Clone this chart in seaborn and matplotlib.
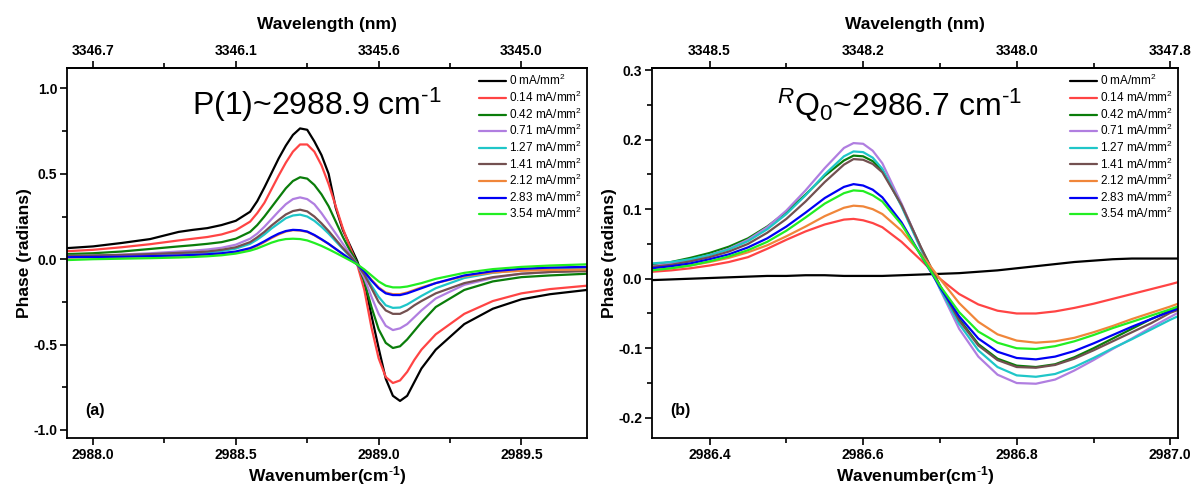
import matplotlib
matplotlib.use("Agg")
import matplotlib.pyplot as plt
import seaborn as sns
import pandas as pd
from matplotlib.ticker import MultipleLocator, FormatStrFormatter

# ---------------- data ----------------
current_density = ["0", "0.14", "0.42", "0.71", "1.27", "1.41", "2.12", "2.83", "3.54"]
line_colors = ["#000000", "#ff4444", "#0a7d0a", "#b07ee0", "#1fc6c8",
               "#735050", "#f0863a", "#0000f5", "#22ee22"]

# P(1) line
wn_p1 = [2987.91, 2988.0, 2988.1, 2988.2, 2988.3, 2988.35, 2988.4, 2988.45, 2988.5,
         2988.55, 2988.575, 2988.6, 2988.625, 2988.65, 2988.675, 2988.7, 2988.725,
         2988.75, 2988.775, 2988.8,
         2988.825, 2988.85, 2988.875, 2988.9, 2988.925, 2988.95, 2988.975, 2989.0,
         2989.025, 2989.05, 2989.075, 2989.1, 2989.125, 2989.15, 2989.2, 2989.3,
         2989.4, 2989.5, 2989.6, 2989.73]
p1_000 = [0.065, 0.075, 0.095, 0.118, 0.16, 0.172, 0.182, 0.20, 0.225,
          0.278, 0.34, 0.42, 0.505, 0.59, 0.665, 0.728, 0.766, 0.758, 0.69, 0.61,
          0.50, 0.30, 0.17, 0.08, -0.01, -0.13, -0.33, -0.52, -0.70, -0.80, -0.83, -0.80,
          -0.72, -0.64, -0.53, -0.38, -0.29, -0.235, -0.205, -0.18]
p1_014 = [0.047, 0.055, 0.07, 0.088, 0.11, 0.12, 0.13, 0.145, 0.17,
          0.22, 0.27, 0.33, 0.41, 0.49, 0.565, 0.63, 0.672, 0.672, 0.63, 0.55,
          0.44, 0.31, 0.18, 0.07, -0.03, -0.18, -0.40, -0.58, -0.69, -0.725, -0.71, -0.66,
          -0.59, -0.53, -0.44, -0.32, -0.245, -0.20, -0.175, -0.155]
p1_042 = [0.03, 0.035, 0.045, 0.06, 0.075, 0.082, 0.09, 0.10, 0.12,
          0.16, 0.20, 0.25, 0.305, 0.36, 0.415, 0.458, 0.48, 0.472, 0.435, 0.38,
          0.31, 0.22, 0.13, 0.05, -0.02, -0.13, -0.28, -0.41, -0.49, -0.52, -0.51, -0.47,
          -0.42, -0.37, -0.28, -0.18, -0.13, -0.105, -0.095, -0.085]
p1_071 = [0.015, 0.02, 0.027, 0.035, 0.045, 0.05, 0.057, 0.067, 0.085,
          0.12, 0.15, 0.19, 0.235, 0.28, 0.322, 0.352, 0.362, 0.352, 0.322, 0.27,
          0.21, 0.15, 0.09, 0.03, -0.03, -0.11, -0.22, -0.32, -0.39, -0.415, -0.405, -0.38,
          -0.34, -0.30, -0.23, -0.15, -0.11, -0.085, -0.075, -0.065]
p1_127 = [0.02, 0.02, 0.022, 0.027, 0.033, 0.036, 0.04, 0.048, 0.062,
          0.09, 0.115, 0.145, 0.18, 0.21, 0.24, 0.256, 0.261, 0.25, 0.225, 0.19,
          0.15, 0.105, 0.06, 0.015, -0.03, -0.085, -0.155, -0.22, -0.27, -0.285, -0.283,
          -0.265, -0.24, -0.215, -0.17, -0.11, -0.08, -0.062, -0.055, -0.05]
p1_141 = [0.02, 0.022, 0.025, 0.03, 0.037, 0.04, 0.045, 0.055, 0.07,
          0.10, 0.128, 0.16, 0.197, 0.23, 0.262, 0.282, 0.29, 0.28, 0.25, 0.21,
          0.165, 0.115, 0.065, 0.02, -0.03, -0.09, -0.17, -0.25, -0.30, -0.32, -0.32,
          -0.30, -0.27, -0.245, -0.20, -0.14, -0.105, -0.085, -0.075, -0.07]
p1_212 = [0.01, 0.012, 0.015, 0.018, 0.022, 0.025, 0.028, 0.033, 0.042,
          0.06, 0.078, 0.10, 0.124, 0.145, 0.162, 0.17, 0.168, 0.16, 0.14, 0.115,
          0.09, 0.06, 0.03, 0.0, -0.03, -0.07, -0.12, -0.165, -0.195, -0.205, -0.205,
          -0.195, -0.18, -0.165, -0.14, -0.10, -0.078, -0.068, -0.063, -0.06]
p1_283 = [0.012, 0.013, 0.015, 0.018, 0.022, 0.025, 0.029, 0.035, 0.045,
          0.065, 0.083, 0.105, 0.129, 0.15, 0.165, 0.172, 0.17, 0.162, 0.142, 0.117,
          0.09, 0.06, 0.03, 0.0, -0.03, -0.072, -0.125, -0.17, -0.20, -0.21, -0.21,
          -0.20, -0.185, -0.17, -0.14, -0.095, -0.07, -0.056, -0.049, -0.045]
p1_354 = [-0.005, 0.0, 0.003, 0.006, 0.01, 0.013, 0.017, 0.023, 0.033,
          0.05, 0.063, 0.08, 0.097, 0.11, 0.118, 0.12, 0.118, 0.11, 0.095, 0.078,
          0.058, 0.037, 0.015, -0.007, -0.03, -0.06, -0.095, -0.13, -0.155, -0.165, -0.165,
          -0.16, -0.15, -0.14, -0.115, -0.08, -0.058, -0.045, -0.037, -0.03]

# RQ0 line
wn_rq0 = [2986.325, 2986.35, 2986.375, 2986.40, 2986.425, 2986.45, 2986.475, 2986.50,
          2986.525, 2986.55, 2986.575,
          2986.5875, 2986.60, 2986.6125, 2986.625,
          2986.65, 2986.675, 2986.70, 2986.725, 2986.75, 2986.775, 2986.80, 2986.825,
          2986.85, 2986.875, 2986.90, 2986.925, 2986.95, 2986.975, 2987.00, 2987.01]
rq0_000 = [-0.002, -0.001, 0.000, 0.001, 0.002, 0.003, 0.004, 0.004, 0.005, 0.005, 0.004,
           0.004, 0.004, 0.004, 0.004,
           0.005, 0.006, 0.007, 0.008, 0.010, 0.012, 0.015, 0.018, 0.021, 0.024, 0.026,
           0.028, 0.029, 0.029, 0.029, 0.029]
rq0_014 = [0.010, 0.012, 0.015, 0.019, 0.024, 0.031, 0.043, 0.056, 0.068, 0.078, 0.085,
           0.086, 0.084, 0.080, 0.074,
           0.053, 0.027, 0.000, -0.022, -0.037, -0.046, -0.050, -0.050, -0.047, -0.042,
           -0.036, -0.029, -0.022, -0.015, -0.008, -0.005]
rq0_042 = [0.020, 0.024, 0.030, 0.037, 0.046, 0.058, 0.075, 0.096, 0.121, 0.148, 0.170,
           0.177, 0.176, 0.169, 0.156,
           0.106, 0.045, -0.010, -0.058, -0.094, -0.115, -0.125, -0.127, -0.123, -0.113,
           -0.100, -0.086, -0.072, -0.058, -0.046, -0.042]
rq0_071 = [0.018, 0.022, 0.027, 0.034, 0.043, 0.056, 0.074, 0.098, 0.127, 0.159, 0.188,
           0.195, 0.194, 0.184, 0.166,
           0.108, 0.045, -0.015, -0.072, -0.112, -0.138, -0.150, -0.151, -0.145, -0.132,
           -0.117, -0.101, -0.086, -0.070, -0.055, -0.049]
rq0_127 = [0.022, 0.024, 0.028, 0.034, 0.042, 0.054, 0.071, 0.093, 0.120, 0.150, 0.176,
           0.183, 0.182, 0.174, 0.158,
           0.104, 0.043, -0.014, -0.065, -0.103, -0.127, -0.139, -0.141, -0.137, -0.127,
           -0.114, -0.100, -0.087, -0.073, -0.059, -0.054]
rq0_141 = [0.017, 0.020, 0.025, 0.031, 0.039, 0.050, 0.066, 0.086, 0.111, 0.139, 0.164,
           0.172, 0.171, 0.165, 0.153,
           0.106, 0.046, -0.010, -0.060, -0.096, -0.117, -0.127, -0.128, -0.124, -0.115,
           -0.103, -0.090, -0.077, -0.064, -0.049, -0.045]
rq0_212 = [0.012, 0.015, 0.019, 0.024, 0.030, 0.038, 0.048, 0.061, 0.075, 0.090, 0.102,
           0.105, 0.104, 0.100, 0.093,
           0.069, 0.036, 0.000, -0.035, -0.062, -0.080, -0.089, -0.092, -0.090, -0.085,
           -0.077, -0.068, -0.058, -0.049, -0.040, -0.036]
rq0_283 = [0.015, 0.018, 0.022, 0.028, 0.035, 0.045, 0.058, 0.075, 0.095, 0.116, 0.132,
           0.136, 0.134, 0.128, 0.117,
           0.081, 0.034, -0.012, -0.054, -0.086, -0.105, -0.114, -0.116, -0.112, -0.104,
           -0.093, -0.081, -0.069, -0.058, -0.047, -0.043]
rq0_354 = [0.012, 0.015, 0.019, 0.025, 0.032, 0.041, 0.053, 0.069, 0.088, 0.108, 0.123,
           0.127, 0.126, 0.120, 0.111,
           0.078, 0.034, -0.010, -0.048, -0.076, -0.092, -0.100, -0.101, -0.097, -0.090,
           -0.081, -0.071, -0.062, -0.053, -0.044, -0.040]

# axis ticks (top axis shows the corresponding wavelength)
p1_xticks = [2988.0, 2988.5, 2989.0, 2989.5]
p1_top_labels = ["3346.7", "3346.1", "3345.6", "3345.0"]
rq0_xticks = [2986.4, 2986.6, 2986.8, 2987.0]
rq0_top_labels = ["3348.5", "3348.2", "3348.0", "3347.8"]

p1_series = [p1_000, p1_014, p1_042, p1_071, p1_127, p1_141, p1_212, p1_283, p1_354]
rq0_series = [rq0_000, rq0_014, rq0_042, rq0_071, rq0_127, rq0_141, rq0_212, rq0_283, rq0_354]


def long_frame(wn, series):
    rows = []
    for label, values in zip(current_density, series):
        if len(values) != len(wn):
            raise ValueError(f"series {label}: {len(values)} values for {len(wn)} points")
        for x, y in zip(wn, values):
            rows.append({"wavenumber": x, "phase": y, "current": label})
    return pd.DataFrame(rows)


# ---------------- style ----------------
sns.set_style("ticks")
plt.rcParams.update({
    "font.family": ["Liberation Sans", "DejaVu Sans"],
    "mathtext.fontset": "custom",
    "mathtext.rm": "Liberation Sans",
    "mathtext.it": "Liberation Sans:italic",
    "mathtext.bf": "Liberation Sans:bold",
    "text.color": "black",
    "axes.labelcolor": "black",
    "xtick.color": "black",
    "ytick.color": "black",
    "axes.edgecolor": "black",
    "axes.linewidth": 1.3,
    "xtick.major.width": 1.2,
    "ytick.major.width": 1.2,
    "xtick.minor.width": 1.2,
    "ytick.minor.width": 1.2,
    "xtick.major.size": 5,
    "ytick.major.size": 5,
    "xtick.minor.size": 3.5,
    "ytick.minor.size": 3.5,
    "xtick.direction": "out",
    "ytick.direction": "out",
})

fig = plt.figure(figsize=(11.93, 4.88), dpi=100)
ax_a = fig.add_axes([0.0562, 0.1025, 0.4359, 0.7582])
ax_b = fig.add_axes([0.5465, 0.1025, 0.4409, 0.7582])

panels = [
    (ax_a, wn_p1, p1_series, (2987.909, 2989.73), (-1.047, 1.12), p1_xticks,
     p1_top_labels, 0.25, 0.5, 0.25, "P(1)~2988.9 cm$^{\\text{-}1}$", "(a)", (0.48, 0.9)),
    (ax_b, wn_rq0, rq0_series, (2986.325, 2987.01), (-0.229, 0.303), rq0_xticks,
     rq0_top_labels, 0.1, 0.1, 0.05, "$^{R}$Q$_{0}$~2986.7 cm$^{\\text{-}1}$", "(b)",
     (0.47, 0.9)),
]

for (ax, wn, series, xlim, ylim, xticks, top_labels, xminor, ymajor, yminor,
     title, tag, title_pos) in panels:
    df = long_frame(wn, series)
    sns.lineplot(data=df, x="wavenumber", y="phase", hue="current",
                 hue_order=current_density, palette=line_colors, linewidth=1.6,
                 sort=False, estimator=None, legend=False, ax=ax)
    ax.set_xlim(*xlim)
    ax.set_ylim(*ylim)
    ax.set_xticks(xticks)
    ax.set_xticklabels([f"{t:.1f}" for t in xticks])
    ax.xaxis.set_minor_locator(MultipleLocator(xminor))
    ax.yaxis.set_major_locator(MultipleLocator(ymajor))
    ax.yaxis.set_minor_locator(MultipleLocator(yminor))
    ax.yaxis.set_major_formatter(FormatStrFormatter("%.1f"))
    for lab in ax.get_xticklabels() + ax.get_yticklabels():
        lab.set_fontweight("bold")
        lab.set_fontsize(10)
    ax.tick_params(axis="both", which="both", pad=2)
    ax.set_xlabel("Wavenumber(cm$^{\\text{-}\\mathbf{1}}$)", fontsize=12.5,
                  fontweight="bold", labelpad=2)
    ax.set_ylabel("Phase (radians)", fontsize=12.5, fontweight="bold", labelpad=1)
    for side in ("top", "right", "left", "bottom"):
        ax.spines[side].set_visible(True)

    top = ax.secondary_xaxis("top")
    top.set_xticks(xticks)
    top.set_xticklabels(top_labels)
    top.xaxis.set_minor_locator(MultipleLocator(xminor))
    top.tick_params(axis="x", which="both", direction="out", pad=2)
    for lab in top.get_xticklabels():
        lab.set_fontweight("bold")
        lab.set_fontsize(10)
    top.set_xlabel("Wavelength (nm)", fontsize=12.5, fontweight="bold", labelpad=11)

    ax.text(title_pos[0], title_pos[1], title, transform=ax.transAxes,
            ha="center", va="center", fontsize=23)
    ax.text(0.035, 0.075, tag, transform=ax.transAxes, ha="left", va="center",
            fontsize=11.5, fontweight="bold")

    handles = ax.get_lines()[:len(current_density)]
    ax.legend(handles, [f"{c} mA/mm$^{{2}}$" for c in current_density],
              loc="upper right", frameon=False, fontsize=8.5, handlelength=2.3,
              handletextpad=0.2, labelspacing=0.12, borderaxespad=0.25,
              borderpad=0.2)

fig.savefig("out.png", dpi=100)
